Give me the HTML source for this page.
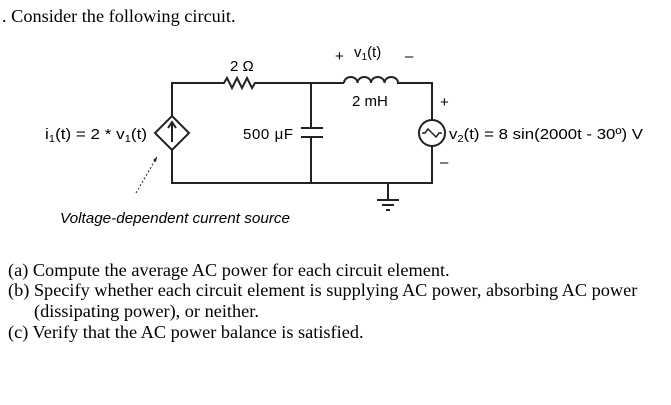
<!DOCTYPE html>
<html><head><style>
body{margin:0;width:671px;height:405px;background:#fff;overflow:hidden;position:relative}
.s{position:absolute;font-family:"Liberation Serif",serif;font-size:18.3px;color:#000;white-space:nowrap}
</style></head><body>
<div class="s" style="left:2px;top:6px">. Consider the following circuit.</div>
<svg width="671" height="405" style="position:absolute;left:0;top:0" font-family="Liberation Sans, sans-serif" font-size="15">
<g stroke="#222" stroke-width="2" fill="none">
<path d="M172 116 V83 H224 l3 -5 l5 10 l5 -10 l5 10 l5 -10 l5 10 l3 -5 H344"/>
<path d="M344 83 a6.75 6 0 0 1 13.5 0 a6.75 6 0 0 1 13.5 0 a6.75 6 0 0 1 13.5 0 a6.75 6 0 0 1 13.5 0 H432 V120"/>
<path d="M432 146 V183 H172 V150"/>
<path d="M311 83 V128 M301 128 H323 M301 137 H323 M311 137 V183"/>
<path d="M388 183 V200 M377 200 H399 M382 205 H394 M386 210 H390"/>
<path d="M172 116 L189 133 L172 150 L155 133 Z"/>
<circle cx="432" cy="133" r="13"/>
<path d="M422 133 h3 l3 -4 l4 4 l4 4 l3 -4 h3" stroke-width="1.5"/>
<path d="M172 142 V124 M168 128 L172 122 L176 128" stroke-width="2"/>
<path d="M136 193 L157 157" stroke-width="1" stroke-dasharray="2,2"/>
</g>
<path d="M157 157 l-1 5 l-3 -2 z" fill="#222"/>
<text x="230" y="71">2 Ω</text>
<text x="335" y="61">+</text>
<text x="354" y="57">v<tspan font-size="10" dy="3">1</tspan><tspan dy="-3">(t)</tspan></text>
<text x="405" y="61">–</text>
<text x="352" y="106">2 mH</text>
<text x="440" y="107">+</text>
<text x="440" y="167">–</text>
<text x="243" y="139" textLength="50">500 μF</text>
<text x="45" y="139" textLength="102" lengthAdjust="spacingAndGlyphs">i<tspan font-size="10" dy="3">1</tspan><tspan dy="-3">(t) = 2 * v</tspan><tspan font-size="10" dy="3">1</tspan><tspan dy="-3">(t)</tspan></text>
<text x="449" y="139" textLength="194" lengthAdjust="spacingAndGlyphs">v<tspan font-size="10" dy="3">2</tspan><tspan dy="-3">(t) = 8 sin(2000t - 30º) V</tspan></text>
<text x="60" y="223" font-style="italic" textLength="230" lengthAdjust="spacingAndGlyphs">Voltage-dependent current source</text>
</svg>
<div class="s" style="left:8px;top:260px">(a) Compute the average AC power for each circuit element.</div>
<div class="s" style="left:8px;top:280px">(b) Specify whether each circuit element is supplying AC power, absorbing AC power</div>
<div class="s" style="left:34px;top:301px">(dissipating power), or neither.</div>
<div class="s" style="left:8px;top:322px">(c) Verify that the AC power balance is satisfied.</div>
</body></html>
